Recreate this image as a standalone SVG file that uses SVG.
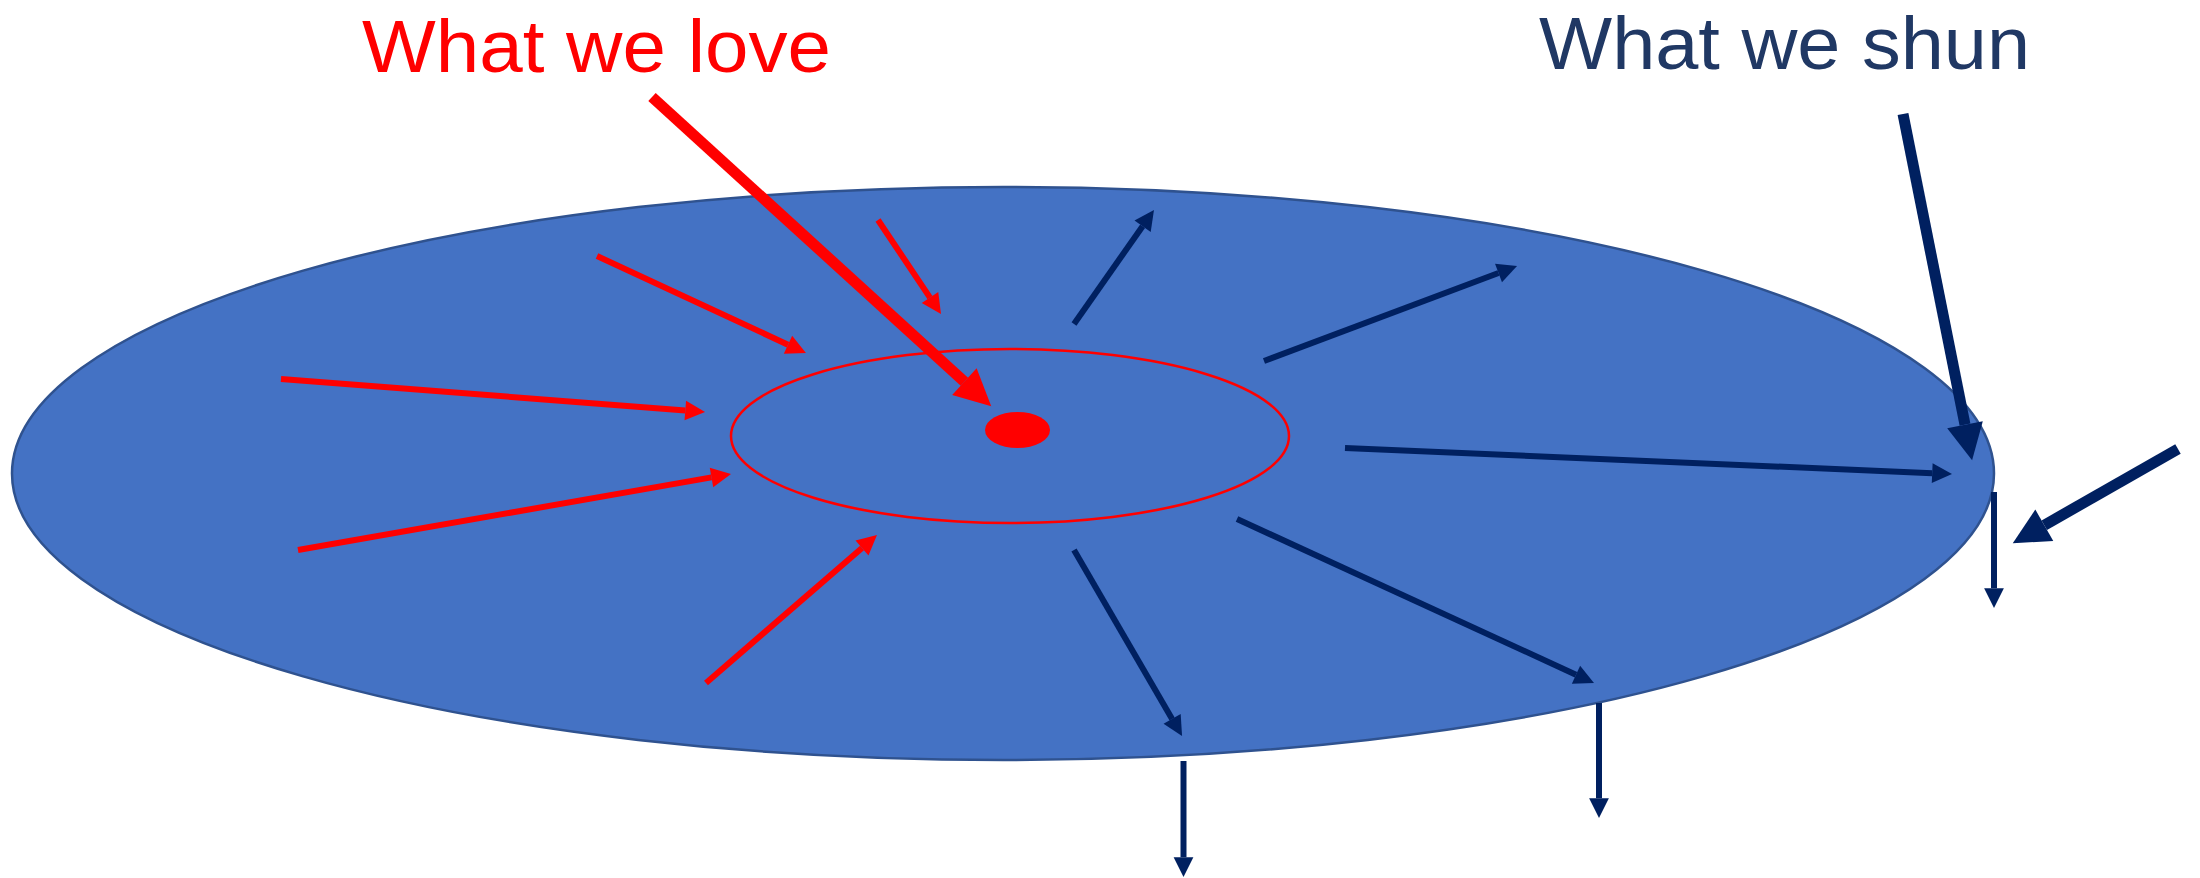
<svg xmlns="http://www.w3.org/2000/svg" width="2200" height="878" viewBox="0 0 2200 878">
<style>
.lbl{font-family:"Liberation Sans",Arial,sans-serif;font-size:75px}
.r{stroke:#FF0000;fill:none}
.n{stroke:#002060;fill:none}
.thin{stroke-width:6}
.thick{stroke-width:11}
.r.thin,.r.thick{marker-end:url(#hr)}
.n.thin,.n.thick{marker-end:url(#hn)}
</style>
<defs>
<marker id="hr" markerUnits="strokeWidth" markerWidth="3.3" markerHeight="3.3" viewBox="0 0 3.3 3.3" refX="0" refY="1.65" orient="auto" overflow="visible"><path d="M0,0 L3.3,1.65 L0,3.3 z" fill="#FF0000"/></marker>
<marker id="hn" markerUnits="strokeWidth" markerWidth="3.3" markerHeight="3.3" viewBox="0 0 3.3 3.3" refX="0" refY="1.65" orient="auto" overflow="visible"><path d="M0,0 L3.3,1.65 L0,3.3 z" fill="#002060"/></marker>
</defs>
<rect width="2200" height="878" fill="#FFFFFF"/>
<g id="disc"><ellipse cx="1003" cy="473.5" rx="991" ry="286.5" fill="#4472C4" stroke="#2F528F" stroke-width="2.5"/></g>
<g id="inner-ring"><ellipse cx="1010" cy="436" rx="279" ry="87" fill="none" stroke="#FF0000" stroke-width="2.5"/></g>
<g id="center-dot"><ellipse cx="1017.5" cy="430" rx="32.5" ry="18" fill="#FF0000"/></g>
<g id="label-love"><text class="lbl" x="362" y="72" fill="#FF0000" textLength="469" lengthAdjust="spacingAndGlyphs">What we love</text></g>
<g id="label-shun"><text class="lbl" x="1539" y="69" fill="#203864" textLength="491" lengthAdjust="spacingAndGlyphs">What we shun</text></g>
<g id="connectors">
<line class="r thick" x1="652" y1="97" x2="964.4" y2="381.7"/>
<line class="r thin" x1="281" y1="379" x2="685.3" y2="410.5"/>
<line class="r thin" x1="298" y1="550" x2="711.5" y2="477.4"/>
<line class="r thin" x1="597" y1="256" x2="788" y2="344.7"/>
<line class="r thin" x1="878" y1="220" x2="930" y2="297.6"/>
<line class="r thin" x1="706" y1="683" x2="862" y2="548"/>
<line class="n thin" x1="1074" y1="324" x2="1142.6" y2="226.2"/>
<line class="n thin" x1="1264" y1="361" x2="1498.5" y2="273"/>
<line class="n thin" x1="1345" y1="448" x2="1932.2" y2="473.2"/>
<line class="n thin" x1="1237" y1="519" x2="1576" y2="674.7"/>
<line class="n thin" x1="1074" y1="550" x2="1172.1" y2="718.9"/>
<line class="n thin" x1="1183.5" y1="761" x2="1183.5" y2="857.2"/>
<line class="n thin" x1="1599" y1="703" x2="1599" y2="798.2"/>
<line class="n thin" x1="1994" y1="492" x2="1994" y2="588.2"/>
<line class="n thick" x1="1903" y1="114" x2="1965" y2="424.7"/>
<line class="n thick" x1="2178" y1="449" x2="2044.3" y2="525.2"/>
</g>
</svg>
